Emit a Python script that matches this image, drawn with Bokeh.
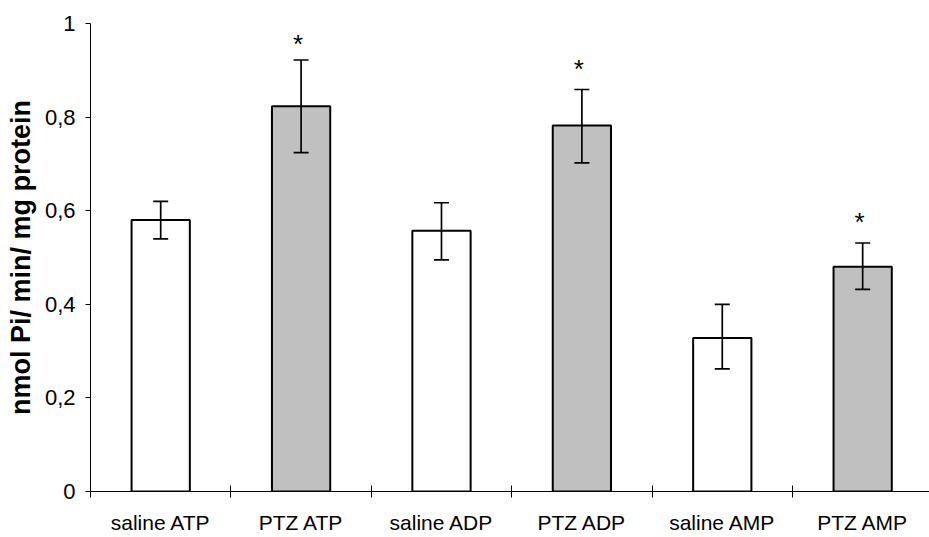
from bokeh.plotting import figure
from bokeh.models import (ColumnDataSource, Range1d, FixedTicker, Whisker, TeeHead)
from bokeh.core.properties import value
from bokeh.embed import file_html
from bokeh.resources import INLINE

# ---- data ----
categories = ["saline ATP", "PTZ ATP", "saline ADP", "PTZ ADP", "saline AMP", "PTZ AMP"]
means = [0.58, 0.823, 0.557, 0.782, 0.328, 0.48]
err_low = [0.54, 0.724, 0.495, 0.702, 0.262, 0.432]
err_high = [0.62, 0.922, 0.617, 0.859, 0.40, 0.531]
groups = ["saline", "PTZ", "saline", "PTZ", "saline", "PTZ"]
star_categories = ["PTZ ATP", "PTZ ADP", "PTZ AMP"]
star_y = [0.966, 0.914, 0.587]
y_ticks = [0, 0.2, 0.4, 0.6, 0.8, 1]
y_tick_labels = ["0", "0,2", "0,4", "0,6", "0,8", "1"]
y_label = "nmol Pi/ min/ mg protein"

colors = {"saline": "#FFFFFF", "PTZ": "#C0C0C0"}
FONT = "Liberation Sans"

xs = [i + 0.5 for i in range(len(categories))]
src = ColumnDataSource(dict(
    x=xs, top=means, lower=err_low, upper=err_high,
    color=[colors[g] for g in groups],
))
star_src = ColumnDataSource(dict(
    x=[categories.index(c) + 0.5 for c in star_categories],
    y=star_y,
    t=["*"] * len(star_y),
))

p = figure(width=929, height=537, output_backend="svg", toolbar_location=None,
           x_range=Range1d(0, 5.976), y_range=Range1d(0, 1),
           min_border_left=90, min_border_right=0, min_border_top=23,
           min_border_bottom=46)
p.outline_line_color = None
p.grid.grid_line_color = None
p.background_fill_color = "white"
p.border_fill_color = "white"

p.vbar(x="x", top="top", bottom=0, width=0.415, source=src,
       fill_color="color", line_color="black", line_width=2)

w = Whisker(base="x", upper="upper", lower="lower", source=src,
            dimension="height", line_color="black", line_width=1.7,
            level="annotation",
            upper_head=TeeHead(size=15, line_color="black", line_width=1.7),
            lower_head=TeeHead(size=15, line_color="black", line_width=1.7))
p.add_layout(w)

p.text(x="x", y="y", text="t", source=star_src, text_align="center",
       text_baseline="alphabetic", text_font=value(FONT),
       text_font_size="26px", text_color="black", x_offset=-3, y_offset=5)

# x axis: labels at category centres, ticks at boundaries
xa = p.xaxis[0]
xa.ticker = FixedTicker(ticks=xs, minor_ticks=list(range(len(categories) + 1)))
xa.major_label_overrides = {x: c for x, c in zip(xs, categories)}
xa.major_tick_in = 0
xa.major_tick_out = 0
xa.minor_tick_in = 6
xa.minor_tick_out = 6
xa.minor_tick_line_color = "black"
xa.axis_line_color = "black"
xa.major_label_text_font = FONT
xa.major_label_text_font_size = "21px"
xa.major_label_text_color = "black"
xa.major_label_standoff = 13

ya = p.yaxis[0]
ya.ticker = FixedTicker(ticks=y_ticks)
ya.major_label_overrides = {t: l for t, l in zip(y_ticks, y_tick_labels)}
ya.major_tick_in = 0
ya.major_tick_out = 5
ya.major_tick_line_color = "black"
ya.minor_tick_line_color = None
ya.axis_line_color = "black"
ya.major_label_text_font = FONT
ya.major_label_text_font_size = "22px"
ya.major_label_text_color = "black"
ya.major_label_standoff = 10
ya.axis_label = y_label
ya.axis_label_text_font = FONT
ya.axis_label_text_font_style = "bold"
ya.axis_label_text_font_size = "27px"
ya.axis_label_text_color = "black"
ya.axis_label_standoff = 6

open("out.html", "w").write(file_html(p, INLINE))
